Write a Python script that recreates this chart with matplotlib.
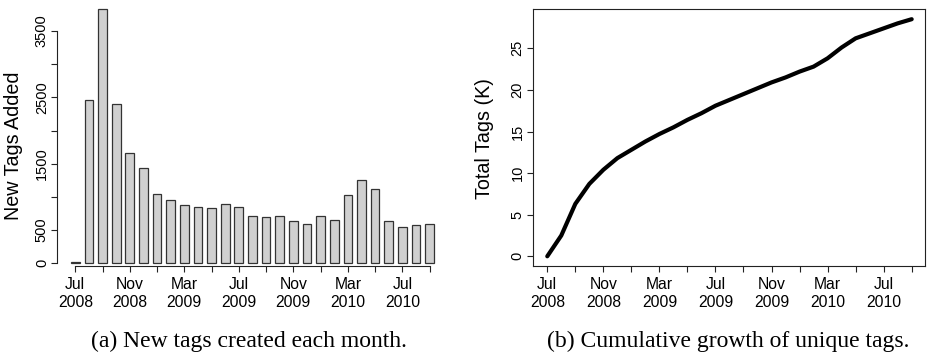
import matplotlib
matplotlib.use("Agg")
import matplotlib.pyplot as plt
import numpy as np

# ---- data ----
month_labels = ["Jul\n2008", "Nov\n2008", "Mar\n2009", "Jul\n2009",
                "Nov\n2009", "Mar\n2010", "Jul\n2010"]
new_tags = [15, 2460, 3830, 2405, 1665, 1440, 1040, 950, 880, 845, 835,
            895, 850, 710, 695, 718, 638, 593, 708, 648, 1025, 1255,
            1125, 638, 552, 572, 593]
total_tags_k = [0.0, 2.5, 6.3, 8.7, 10.4, 11.8, 12.8, 13.8, 14.7, 15.5,
                16.4, 17.2, 18.1, 18.8, 19.5, 20.2, 20.9, 21.5, 22.2, 22.8,
                23.8, 25.1, 26.2, 26.8, 27.4, 28.0, 28.5]
left_yticks = [0, 500, 1000, 1500, 2000, 2500, 3000, 3500]
left_yticklabels = ["0", "500", "", "1500", "", "2500", "", "3500"]
right_yticks = [0, 5, 10, 15, 20, 25]

W, H = 927, 355
fig = plt.figure(figsize=(W / 100, H / 100), dpi=100)

def px_axes(l, t, r, b):
    return fig.add_axes([l / W, 1 - b / H, (r - l) / W, (b - t) / H])

sans = "Liberation Sans"
serif = "Liberation Serif"
axcol = "#222222"
xtick_fs = 11.3
ytick_fs = 10.5
lab_fs = 14.2

n = len(new_tags)
idx = np.arange(n)
xticks = idx[::2]
xlabels = []
j = 0
for k, t in enumerate(xticks):
    if k % 2 == 0:
        xlabels.append(month_labels[j]); j += 1
    else:
        xlabels.append("")

# ---- left: bar chart ----
ax1 = px_axes(57, 5, 440, 266)
ax1.bar(idx, new_tags, width=0.64, color="#d0d0d0", edgecolor="#333333",
        linewidth=0.9)
ax1.set_xlim(-1.343, 26.76)
ax1.set_ylim(-40.7, 3892)
for s in ("top", "right"):
    ax1.spines[s].set_visible(False)
ax1.spines["left"].set_bounds(0, 3500)
ax1.spines["bottom"].set_bounds(0, n - 1)
ax1.set_yticks(left_yticks)
ax1.set_yticklabels(left_yticklabels, rotation=90, va="center",
                    family=sans, fontsize=ytick_fs)
ax1.set_xticks(xticks)
ax1.set_xticklabels(xlabels, family=sans, fontsize=xtick_fs, linespacing=1.25)

# ---- right: cumulative line ----
ax2 = px_axes(532.7, 9.3, 925, 265.7)
ax2.plot(idx, total_tags_k, color="black", linewidth=3.0,
         solid_capstyle="round")
ax2.set_xlim(-1.04, 26.95)
ax2.set_ylim(-1.13, 29.69)
ax2.set_yticks(right_yticks)
ax2.set_yticklabels([str(v) for v in right_yticks], rotation=90,
                    va="center", family=sans, fontsize=ytick_fs)
ax2.set_xticks(xticks)
ax2.set_xticklabels(xlabels, family=sans, fontsize=xtick_fs, linespacing=1.25)

for ax in (ax1, ax2):
    for sp in ax.spines.values():
        sp.set_color(axcol)
        sp.set_linewidth(0.8)
    ax.tick_params(axis="both", direction="out", length=4.3, width=0.8,
                   color=axcol)
    ax.tick_params(axis="x", pad=3.5)
    ax.tick_params(axis="y", pad=1.5)
    ax.set_facecolor("none")

fig.text(14 / W, 1 - 146 / H, "New Tags Added", rotation=90, ha="center",
         va="center", family=sans, fontsize=lab_fs)
fig.text(484 / W, 1 - 138.5 / H, "Total Tags (K)", rotation=90, ha="center",
         va="center", family=sans, fontsize=lab_fs)

fig.text(249 / W, 1 - 341 / H, "(a) New tags created each month.",
         ha="center", va="center", family=serif, fontsize=17)
fig.text(728.5 / W, 1 - 341 / H, "(b) Cumulative growth of unique tags.",
         ha="center", va="center", family=serif, fontsize=17)

fig.savefig("out.png", dpi=100)
